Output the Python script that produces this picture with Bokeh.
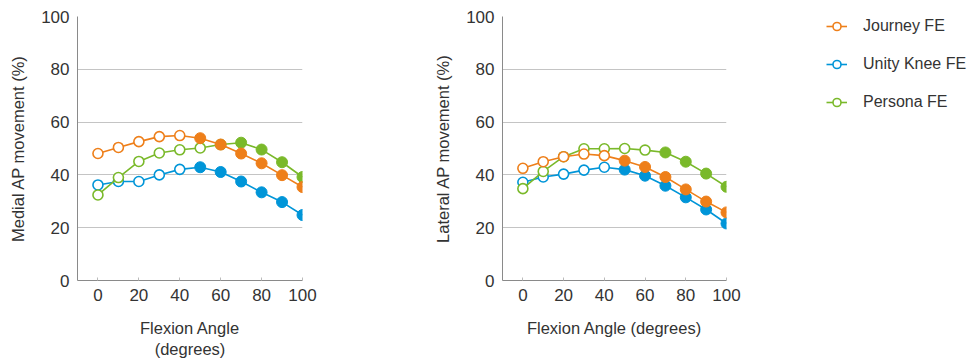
from bokeh.plotting import figure
from bokeh.models import Legend, LegendItem, FixedTicker, Range1d
from bokeh.layouts import row
from bokeh.embed import file_html
from bokeh.resources import INLINE

angles = [0, 10, 20, 30, 40, 50, 60, 70, 80, 90, 100]

medial_journey = [48.1, 50.4, 52.6, 54.5, 54.9, 53.9, 51.5, 48.1, 44.4, 39.9, 35.4]
medial_unity = [36.2, 37.5, 37.5, 40.0, 42.1, 42.9, 41.1, 37.5, 33.4, 29.7, 24.8]
medial_persona = [32.4, 39.0, 45.1, 48.3, 49.5, 50.2, 51.5, 52.2, 49.6, 44.8, 39.2]

lateral_journey = [42.5, 45.0, 46.9, 47.9, 47.3, 45.4, 43.0, 39.2, 34.5, 29.9, 25.8]
lateral_unity = [37.2, 39.2, 40.3, 41.8, 42.9, 42.0, 39.7, 35.9, 31.5, 26.9, 21.6]
lateral_persona = [34.8, 41.3, 46.9, 49.9, 49.9, 50.0, 49.4, 48.5, 45.0, 40.5, 35.5]

# filled (True) vs open (False) markers
journey_filled = [False, False, False, False, False, True, True, True, True, True, True]
unity_filled = [False, False, False, False, False, True, True, True, True, True, True]
persona_filled = [False, False, False, False, False, False, False, True, True, True, True]

series_names = ["Journey FE", "Unity Knee FE", "Persona FE"]
colors = ["#EE7F1A", "#0095D8", "#7AB92A"]

y_ticks = [0, 20, 40, 60, 80, 100]
x_ticks = [0, 20, 40, 60, 80, 100]

FONT = "Liberation Sans"
TXT = "#333333"
H = 361


def make_fig(width, ylabel, xlabel, values, min_left, min_right):
    p = figure(width=width, height=H, output_backend="svg", toolbar_location=None,
               x_range=Range1d(-10, 100), y_range=Range1d(0, 100),
               min_border_left=min_left, min_border_right=min_right,
               min_border_top=16, min_border_bottom=78)
    p.outline_line_color = None

    p.ygrid.ticker = FixedTicker(ticks=[20, 40, 60, 80, 100])
    p.ygrid.grid_line_color = "#c4c4c4"
    p.ygrid.grid_line_width = 1
    p.xgrid.ticker = FixedTicker(ticks=[100])
    p.xgrid.grid_line_color = "#aaaaaa"
    p.xgrid.grid_line_width = 2

    p.xaxis.ticker = FixedTicker(ticks=x_ticks)
    p.yaxis.ticker = FixedTicker(ticks=y_ticks)
    for ax in (p.xaxis, p.yaxis):
        ax.axis_line_color = "#8a8a8a"
        ax.axis_line_width = 1
        ax.minor_tick_line_color = None
        ax.major_label_text_font = FONT
        ax.major_label_text_font_size = "17px"
        ax.major_label_text_color = TXT
        ax.axis_label_text_font = FONT
        ax.axis_label_text_font_size = "16.5px"
        ax.axis_label_text_font_style = "normal"
        ax.axis_label_text_color = TXT
        ax.major_label_standoff = 8
    p.xaxis.major_tick_in = 3
    p.xaxis.major_tick_out = 0
    p.xaxis.major_tick_line_color = "#bbbbbb"
    p.yaxis.major_tick_line_color = None
    p.yaxis.major_tick_in = 0
    p.yaxis.major_tick_out = 0
    p.yaxis.axis_label = ylabel
    p.xaxis.axis_label = xlabel
    p.yaxis.axis_label_standoff = 11
    p.xaxis.axis_label_standoff = 15

    fills = [journey_filled, unity_filled, persona_filled]
    for i in [1, 2, 0]:
        vals = values[i]
        c = colors[i]
        p.line(angles, vals, line_color=c, line_width=1.6)
        xo = [a for a, f in zip(angles, fills[i]) if not f]
        yo = [v for v, f in zip(vals, fills[i]) if not f]
        xf = [a for a, f in zip(angles, fills[i]) if f]
        yf = [v for v, f in zip(vals, fills[i]) if f]
        p.scatter(xo, yo, size=10, fill_color="white", line_color=c, line_width=1.6)
        p.scatter(xf, yf, size=11, fill_color=c, line_color=c, line_width=1)
    return p


p1 = make_fig(330, "Medial AP movement (%)", "Flexion Angle\n(degrees)",
              [medial_journey, medial_unity, medial_persona], 77, 28)
p2 = make_fig(416, "Lateral AP movement (%)", "Flexion Angle (degrees)",
              [lateral_journey, lateral_unity, lateral_persona], 172, 20)

# legend-only panel: series are plotted but lie outside this panel's view
p3 = figure(width=224, height=H, output_backend="svg", toolbar_location=None,
            x_range=Range1d(1000, 1001), y_range=Range1d(1000, 1001),
            min_border_left=80, min_border_right=0, min_border_top=10, min_border_bottom=0)
p3.axis.visible = False
p3.grid.visible = False
p3.outline_line_color = None
items = []
for i, vals in enumerate([lateral_journey, lateral_unity, lateral_persona]):
    ln = p3.line(angles, vals, line_color=colors[i], line_width=1.6)
    sc = p3.scatter(angles, vals, size=10, fill_color="white", line_color=colors[i], line_width=1.6)
    items.append(LegendItem(label=series_names[i], renderers=[ln, sc]))
legend = Legend(items=items, location="top_left")
legend.border_line_color = None
legend.background_fill_alpha = 0
legend.padding = 0
legend.margin = 0
legend.spacing = 18
legend.glyph_width = 21
legend.glyph_height = 20
legend.label_height = 20
legend.label_standoff = 16
legend.label_text_font = FONT
legend.label_text_font_size = "16px"
legend.label_text_color = TXT
p3.add_layout(legend, "center")

layout = row(p1, p2, p3)

open("out.html", "w").write(file_html(layout, INLINE))
